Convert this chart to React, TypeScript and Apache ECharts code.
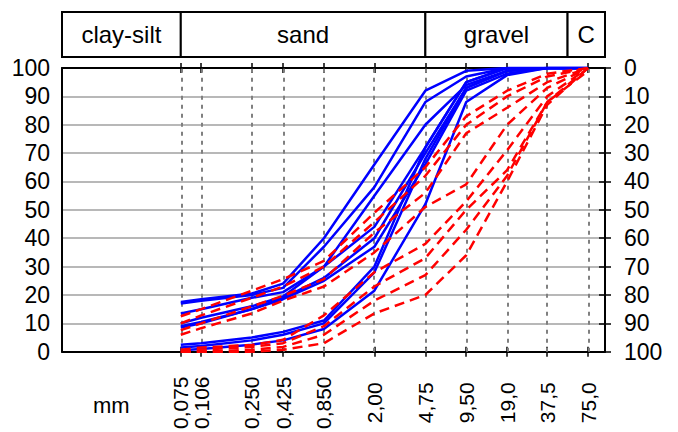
import React, { useEffect, useRef } from 'react';
import * as echarts from 'echarts';

const sieveSizes = [0.075, 0.106, 0.25, 0.425, 0.85, 2.0, 4.75, 9.5, 19.0, 37.5, 75.0];
const sieveLabels = ['0,075', '0,106', '0,250', '0,425', '0,850', '2,00', '4,75', '9,50', '19,0', '37,5', '75,0'];
const bandNames = ['clay-silt', 'sand', 'gravel', 'C'];
const bandBounds = [0.01, 0.075, 4.75, 53, 100];

// passing percent at each sieve size (blue solid)
const blueA = [17.5, 18.5, 20.5, 24, 40, 66, 92, 99, 100, 100, 100];
const blueB = [17, 18, 20, 22.5, 37, 58, 88, 97, 100, 100, 100];
const blueC = [13.5, 15, 19, 21, 30, 55, 80, 94, 99, 100, 100];
const blueD = [10, 12, 16, 19.5, 30, 44, 72, 95, 100, 100, 100];
const blueE = [9, 10.5, 15, 19, 26, 40, 70, 93, 99, 100, 100];
const blueF = [8.5, 10, 15, 18.5, 25, 37, 66, 92, 98, 100, 100];
const blueG = [2.5, 3, 5, 7, 11, 30, 72, 95, 100, 100, 100];
const blueH = [1.5, 2, 4, 6, 10, 28, 68, 93, 99, 100, 100];
const blueI = [0.5, 1, 2.5, 4, 8, 21.5, 52, 88, 97.5, 100, 100];

// passing percent at each sieve size (red dashed)
const redA = [12.5, 15, 21.5, 25.6, 32, 49, 65, 83, 92, 98, 100];
const redB = [10, 12.8, 19, 23, 30, 45.7, 62, 80, 90, 97, 100];
const redC = [7.6, 10, 16, 19.7, 25.6, 42, 56, 77, 86, 95, 100];
const redD = [6, 8.3, 13.5, 18, 23, 35, 51, 59, 80, 93, 100];
const redE = [0.7, 1.5, 2.4, 4.2, 12.8, 28, 38, 53, 71, 90, 100];
const redF = [0, 0.7, 1.7, 3, 9, 23, 33, 50, 64, 88, 100];
const redG = [0, 0, 0.7, 1.7, 6, 18, 27, 43, 62, 88, 99];
const redH = [0, 0, 0, 0.7, 3, 13.5, 20, 34, 60, 87, 100];

const blueSeries = [blueA, blueB, blueC, blueD, blueE, blueF, blueG, blueH, blueI];
const redSeries = [redA, redB, redC, redD, redE, redF, redG, redH];

const FONT = 'Liberation Sans, Arial, sans-serif';

export default function App() {
  const ref = useRef<HTMLDivElement>(null);
  useEffect(() => {
    document.body.style.margin = '0';
    if (!ref.current) return;
    const chart = echarts.init(ref.current, null, { renderer: 'svg' });
    const logs = sieveSizes.map((s) => Math.log10(s));
    const toData = (vals: number[]) => sieveSizes.map((s, i) => [Math.log10(s), vals[i]]);
    const labelFor = (v: number) => {
      let best = 0;
      let d = Infinity;
      logs.forEach((l, i) => {
        if (Math.abs(l - v) < d) { d = Math.abs(l - v); best = i; }
      });
      return sieveLabels[best];
    };
    const baseX = {
      type: 'value' as const,
      min: -2,
      max: 2,
      gridIndex: 0,
      splitLine: { show: false },
    };
    const labelBase = {
      show: true,
      rotate: 90,
      align: 'center',
      verticalAlign: 'middle',
      margin: 51,
      color: '#000',
      fontSize: 21,
      fontFamily: FONT,
      showMinLabel: true,
      showMaxLabel: true,
      hideOverlap: false,
      formatter: (v: number) => labelFor(v),
    };
    const series: any[] = [];
    blueSeries.forEach((vals, i) => {
      series.push({
        type: 'line',
        data: toData(vals),
        xAxisIndex: 0,
        yAxisIndex: 0,
        showSymbol: false,
        symbol: 'none',
        silent: true,
        lineStyle: { color: '#0000ff', width: 2.5 },
        z: 3,
        markLine: i === 0 ? {
          silent: true,
          symbol: 'none',
          label: { show: false },
          lineStyle: { color: '#808080', width: 2, type: [4, 5] },
          data: logs.map((l) => ({ xAxis: l })),
          z: 1,
        } : undefined,
      });
    });
    redSeries.forEach((vals) => {
      series.push({
        type: 'line',
        data: toData(vals),
        xAxisIndex: 0,
        yAxisIndex: 0,
        showSymbol: false,
        symbol: 'none',
        silent: true,
        lineStyle: { color: '#ff0000', width: 2.5, type: [10, 6] },
        z: 4,
      });
    });
    series.push({
      type: 'line',
      data: [],
      xAxisIndex: 4,
      yAxisIndex: 3,
      silent: true,
      markArea: {
        silent: true,
        itemStyle: { color: '#ffffff', borderColor: '#000000', borderWidth: 2 },
        label: { show: true, position: 'inside', color: '#000', fontSize: 24, fontFamily: FONT },
        data: bandNames.map((n, i) => [
          { name: n, xAxis: Math.log10(bandBounds[i]), yAxis: 0 },
          { xAxis: Math.log10(bandBounds[i + 1]), yAxis: 1 },
        ]),
      },
    });

    const tickStyle = { color: '#000', width: 1.5 };
    chart.setOption({
      animation: false,
      textStyle: { fontFamily: FONT },
      grid: [
        { left: 62, right: 73, top: 68, bottom: 75 },
        { left: 62, right: 73, top: 12, height: 45 },
      ],
      xAxis: [
        {
          ...baseX,
          position: 'bottom',
          axisLine: { show: true, onZero: false, lineStyle: { color: '#000', width: 2 } },
          axisTick: { show: true, inside: false, length: 5, lineStyle: tickStyle, customValues: logs },
          axisLabel: { ...labelBase, customValues: logs.filter((_, i) => i !== 1) },
        },
        {
          ...baseX,
          position: 'bottom',
          axisLine: { show: false, onZero: false },
          axisTick: { show: true, inside: true, length: 5, lineStyle: tickStyle, customValues: logs },
          axisLabel: { ...labelBase, customValues: [logs[1]] },
        },
        {
          ...baseX,
          position: 'top',
          axisLine: { show: true, onZero: false, lineStyle: { color: '#000', width: 2 } },
          axisTick: { show: true, inside: false, length: 5, lineStyle: tickStyle, customValues: logs },
          axisLabel: { show: false },
        },
        {
          ...baseX,
          position: 'top',
          axisLine: { show: false, onZero: false },
          axisTick: { show: true, inside: true, length: 5, lineStyle: tickStyle, customValues: logs },
          axisLabel: { show: false },
        },
        {
          type: 'value',
          min: -2,
          max: 2,
          gridIndex: 1,
          show: false,
        },
      ],
      yAxis: [
        {
          type: 'value',
          min: 0,
          max: 100,
          interval: 10,
          position: 'left',
          gridIndex: 0,
          axisLine: { show: true, onZero: false, lineStyle: { color: '#000', width: 2 } },
          axisTick: { show: false },
          axisLabel: { color: '#000', fontSize: 23, margin: 12, fontFamily: FONT },
          splitLine: { show: true, lineStyle: { color: '#a0a0a0', width: 1.5 } },
        },
        {
          type: 'value',
          min: 0,
          max: 100,
          interval: 10,
          inverse: true,
          position: 'right',
          gridIndex: 0,
          axisLine: { show: true, onZero: false, lineStyle: { color: '#000', width: 2 } },
          axisTick: { show: true, inside: false, length: 6, lineStyle: tickStyle },
          axisLabel: { color: '#000', fontSize: 23, margin: 19, fontFamily: FONT },
          splitLine: { show: false },
        },
        {
          type: 'value',
          min: 0,
          max: 100,
          interval: 10,
          inverse: true,
          position: 'right',
          gridIndex: 0,
          axisLine: { show: false, onZero: false },
          axisTick: { show: true, inside: true, length: 6, lineStyle: tickStyle },
          axisLabel: { show: false },
          splitLine: { show: false },
        },
        {
          type: 'value',
          min: 0,
          max: 1,
          gridIndex: 1,
          show: false,
        },
      ],
      graphic: [
        {
          type: 'text',
          left: 93,
          top: 394,
          style: { text: 'mm', fontSize: 22, fill: '#000', fontFamily: FONT },
        },
      ],
      series,
    });
    return () => chart.dispose();
  }, []);
  return <div ref={ref} style={{ width: 678, height: 432 }} />;
}
